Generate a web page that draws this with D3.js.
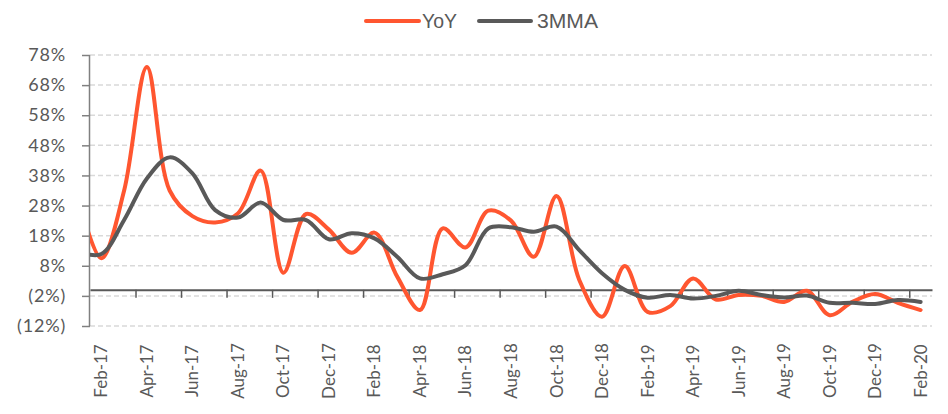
<!DOCTYPE html>
<html>
<head>
<meta charset="utf-8">
<script src="https://cdn.jsdelivr.net/npm/d3@7"></script>
<style>
  html, body { margin: 0; padding: 0; background: #fff; }
  svg { display: block; }
  text { font-family: Lato, "DejaVu Sans", sans-serif; fill: #595959; }
</style>
</head>
<body>
<script>
// ---- data ----
const months = ["Feb-17","Mar-17","Apr-17","May-17","Jun-17","Jul-17","Aug-17","Sep-17","Oct-17","Nov-17","Dec-17",
  "Jan-18","Feb-18","Mar-18","Apr-18","May-18","Jun-18","Jul-18","Aug-18","Sep-18","Oct-18","Nov-18","Dec-18",
  "Jan-19","Feb-19","Mar-19","Apr-19","May-19","Jun-19","Jul-19","Aug-19","Sep-19","Oct-19","Nov-19","Dec-19",
  "Jan-20","Feb-20"];
const yoy = [10.5, 33, 74, 33, 24.5, 22.4, 25.4, 39.6, 5.7, 25.2, 20,
  12.3, 19, 4.4, -6.7, 20.4, 14.1, 26.3, 23, 11, 31.2, 3.3, -8.9,
  7.9, -7.3, -5.4, 3.8, -3.2, -1.7, -2, -4, -0.3, -8.4, -4, -1.4,
  -4.3, -6.7];
const mma3 = [11.9, 23.2, 37, 44, 38.7, 26.5, 24, 29, 23.2, 23.2, 16.8,
  18.8, 17.1, 11, 3.8, 5.2, 8.2, 20.4, 20.8, 19.3, 21, 13.2, 5.5,
  0, -2.6, -1.7, -2.9, -2, -0.3, -1.7, -2.5, -1.9, -4.3, -4.3, -4.7,
  -3.4, -4];
// previous month (Jan-17), only partly visible at the left edge of the plot
const leadYoY = 30;
const leadMma3 = 12.5;
const yTicks = [78, 68, 58, 48, 38, 28, 18, 8, -2, -12];
const yTickLabels = ["78%","68%","58%","48%","38%","28%","18%","8%","(2%)","(12%)"];
const seriesNames = ["YoY", "3MMA"];
const seriesColors = ["#FF5630", "#595959"];

// ---- layout ----
const W = 948, H = 414;
const plot = { left: 90, right: 932, top: 55, bottom: 326 };

const svg = d3.select("body").append("svg").attr("width", W).attr("height", H);

const x = d3.scaleLinear().domain([-0.5, months.length - 0.5]).range([plot.left, plot.right]);
const y = d3.scaleLinear().domain([-12, 78]).range([plot.bottom, plot.top]);

// gridlines
svg.append("g").selectAll("line").data(yTicks).join("line")
  .attr("x1", plot.left).attr("x2", plot.right)
  .attr("y1", d => y(d)).attr("y2", d => y(d))
  .attr("stroke", "#d9d9d9").attr("stroke-width", 1.5)
  .attr("stroke-dasharray", "5,3");

// y axis
const yAxis = d3.axisLeft(y).tickValues(yTicks)
  .tickFormat((d, i) => yTickLabels[i]).tickSize(8).tickPadding(16);
const gy = svg.append("g").attr("transform", `translate(${plot.left},0)`).call(yAxis);
gy.select(".domain").attr("stroke", "#808080").attr("stroke-width", 1.5)
  .attr("d", `M-0.5,${plot.top}V${plot.bottom}`);
gy.selectAll(".tick line").attr("stroke", "#808080").attr("stroke-width", 1.5);
gy.selectAll(".tick text").style("font-size", "18px").attr("fill", "#595959")
  .style("font-family", "Lato, sans-serif").style("letter-spacing", "0.8px");

// x axis at zero
const boundaries = d3.range(1, 19).map(k => 2 * k - 0.5);
const xAxis = d3.axisBottom(x).tickValues(boundaries).tickFormat("").tickSize(8).tickSizeOuter(0);
const gx = svg.append("g").attr("transform", `translate(0,${y(0)})`).call(xAxis);
gx.select(".domain").attr("stroke", "#595959").attr("stroke-width", 2);
gx.selectAll(".tick line").attr("stroke", "#595959").attr("stroke-width", 1.5);

// category labels (every second month)
svg.append("g").selectAll("text")
  .data(months.map((m, i) => ({ m, i })).filter(d => d.i % 2 === 0))
  .join("text")
  .attr("transform", d => `translate(${x(d.i) + 6},371) rotate(-90)`)
  .attr("text-anchor", "middle")
  .style("font-size", "17px")
  .text(d => d.m);

// lines
svg.append("clipPath").attr("id", "plotclip").append("rect")
  .attr("x", plot.left).attr("y", 0).attr("width", plot.right - plot.left).attr("height", H);

const line = d3.line().x(d => x(d.i)).y(d => y(d.v)).curve(d3.curveCatmullRom.alpha(0.5));
const series = [
  [{ i: -1, v: leadYoY }].concat(yoy.map((v, i) => ({ i, v }))),
  [{ i: -1, v: leadMma3 }].concat(mma3.map((v, i) => ({ i, v })))
];
svg.append("g").attr("clip-path", "url(#plotclip)").selectAll("path").data(series).join("path")
  .attr("d", line).attr("fill", "none")
  .attr("stroke", (d, i) => seriesColors[i]).attr("stroke-width", 4)
  .attr("stroke-linejoin", "round").attr("stroke-linecap", "round");

// legend
const legendItems = [
  { x1: 366, x2: 419, tx: 422, tl: 35 },
  { x1: 479, x2: 531, tx: 537, tl: 61 }
];
const lg = svg.append("g");
legendItems.forEach((it, i) => {
  lg.append("line").attr("x1", it.x1).attr("x2", it.x2).attr("y1", 21).attr("y2", 21)
    .attr("stroke", seriesColors[i]).attr("stroke-width", 4).attr("stroke-linecap", "round");
  lg.append("text").attr("x", it.tx).attr("y", 28)
    .style("font-size", "20px").style("font-family", "'Liberation Sans Narrow', 'Liberation Sans', sans-serif")
    .attr("textLength", it.tl).attr("lengthAdjust", "spacingAndGlyphs")
    .attr("fill", "#404040")
    .text(seriesNames[i]);
});
</script>
</body>
</html>
